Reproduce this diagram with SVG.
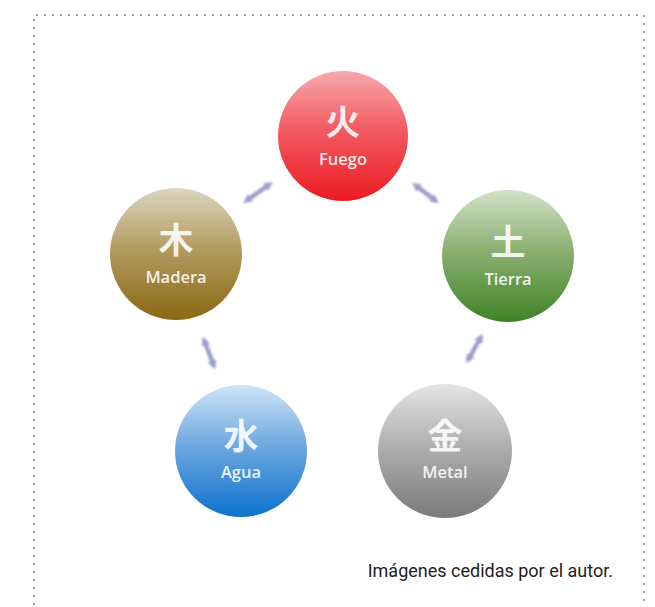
<svg xmlns="http://www.w3.org/2000/svg" width="655" height="607" viewBox="0 0 655 607">
  <style>
    .frame { fill: none; stroke: #8c8c8c; stroke-width: 2.2; stroke-dasharray: 0 8; stroke-linecap: round; }
    .kanji { font-family: "Noto Sans CJK JP", "Noto Sans CJK SC", sans-serif; font-size: 35px; font-weight: 700; fill: #ffffff; text-anchor: middle; fill-opacity: 0.88; }
    .name { font-family: "Open Sans", "Noto Sans", sans-serif; font-size: 16.5px; font-weight: 600; fill: #ffffff; text-anchor: middle; fill-opacity: 0.9; }
    .link { stroke: #9c9ccc; stroke-width: 4.5; fill: none; marker-start: url(#tip); marker-end: url(#tip); filter: url(#soft); }
    .caption { font-family: Roboto, "Liberation Sans", sans-serif; font-size: 18px; fill: #222222; }
  </style>
  <defs>
    <marker id="tip" viewBox="0 0 10 10" refX="6" refY="5" markerWidth="2" markerHeight="2" orient="auto-start-reverse">
      <path d="M0,0 L10,5 L0,10 z" fill="#9c9ccc"/>
    </marker>
    <filter id="soft" x="-50%" y="-50%" width="200%" height="200%">
      <feGaussianBlur stdDeviation="1"/>
    </filter>
    <filter id="halo" x="-20%" y="-20%" width="140%" height="140%">
      <feGaussianBlur stdDeviation="0.6"/>
    </filter>
    <linearGradient id="gFire" x1="0" y1="0" x2="0" y2="1">
      <stop offset="0" stop-color="#f6a9ad"/>
      <stop offset="0.45" stop-color="#f15a60"/>
      <stop offset="1" stop-color="#ec1c24"/>
    </linearGradient>
    <linearGradient id="gWood" x1="0" y1="0" x2="0" y2="1">
      <stop offset="0" stop-color="#dcd6c0"/>
      <stop offset="0.45" stop-color="#b39d62"/>
      <stop offset="1" stop-color="#8a6812"/>
    </linearGradient>
    <linearGradient id="gEarth" x1="0" y1="0" x2="0" y2="1">
      <stop offset="0" stop-color="#d2e2c8"/>
      <stop offset="0.45" stop-color="#8cb072"/>
      <stop offset="1" stop-color="#3f8226"/>
    </linearGradient>
    <linearGradient id="gWater" x1="0" y1="0" x2="0" y2="1">
      <stop offset="0" stop-color="#cfe4f6"/>
      <stop offset="0.45" stop-color="#6fa9df"/>
      <stop offset="1" stop-color="#0e72cc"/>
    </linearGradient>
    <linearGradient id="gMetal" x1="0" y1="0" x2="0" y2="1">
      <stop offset="0" stop-color="#e4e4e4"/>
      <stop offset="0.45" stop-color="#b0b0b0"/>
      <stop offset="1" stop-color="#7a7a7a"/>
    </linearGradient>
  </defs>

  <rect width="655" height="607" fill="#ffffff"/>

  <!-- dotted frame, open at the bottom -->
  <path class="frame" d="M34,620 L34,15 L644,15 L644,620"/>

  <!-- connectors between the five elements -->
  <g id="connectors">
    <line class="link" x1="246" y1="201" x2="270" y2="184"/>
    <line class="link" x1="415" y1="185" x2="436" y2="201"/>
    <line class="link" x1="481" y1="337" x2="468" y2="360"/>
    <line class="link" x1="204" y1="340" x2="214" y2="366"/>
    <line class="link" x1="328" y1="446" x2="358" y2="446"/>
  </g>

  <g id="fuego">
    <circle cx="343" cy="136" r="65" fill="url(#gFire)" filter="url(#halo)"/>
    <text class="kanji" x="343" y="135">火</text>
    <text class="name" x="343" y="165">Fuego</text>
  </g>

  <g id="madera">
    <circle cx="176" cy="254" r="66" fill="url(#gWood)" filter="url(#halo)"/>
    <text class="kanji" x="176" y="253">木</text>
    <text class="name" x="176" y="283">Madera</text>
  </g>

  <g id="tierra">
    <circle cx="508" cy="256" r="66" fill="url(#gEarth)" filter="url(#halo)"/>
    <text class="kanji" x="508" y="255">土</text>
    <text class="name" x="508" y="285">Tierra</text>
  </g>

  <g id="agua">
    <circle cx="241" cy="451" r="66" fill="url(#gWater)" filter="url(#halo)"/>
    <text class="kanji" x="241" y="449">水</text>
    <text class="name" x="241" y="478">Agua</text>
  </g>

  <g id="metal">
    <circle cx="445" cy="451" r="67" fill="url(#gMetal)" filter="url(#halo)"/>
    <text class="kanji" x="445" y="449">金</text>
    <text class="name" x="445" y="478">Metal</text>
  </g>

  <text class="caption" x="613" y="577" text-anchor="end">Imágenes cedidas por el autor.</text>
</svg>
